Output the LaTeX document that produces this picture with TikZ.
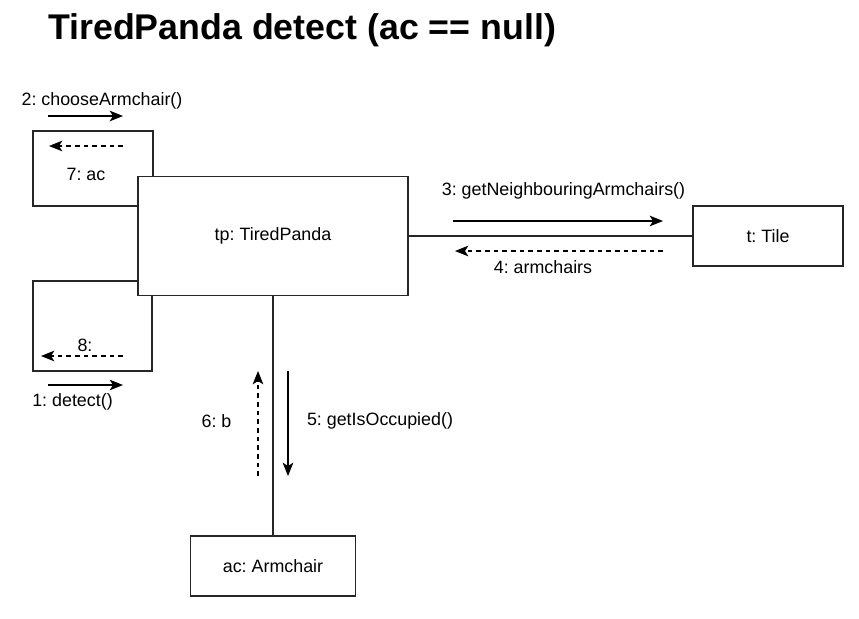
\documentclass[tikz,border=0pt]{standalone}
\usepackage{fontspec}
\setmainfont{Liberation Sans}
\usetikzlibrary{arrows.meta}
\frenchspacing
\begin{document}
\begin{tikzpicture}[x=0.75pt,y=-0.75pt,
  box/.style={draw=black!85,line width=0.9pt,fill=white,inner sep=0pt,font=\frenchspacing\fontsize{13.4}{16}\selectfont},
  lbl/.style={inner sep=0pt,font=\frenchspacing\fontsize{13.4}{16}\selectfont},
  link/.style={line width=1pt,black!85},
  msg/.style={line width=0.9pt,-{Stealth[length=10pt,width=8pt,inset=2.5pt]}},
  ret/.style={msg,dash pattern=on 3.5pt off 3pt}]
\useasboundingbox (0,0) rectangle (859,618);
\node[anchor=base west,inner sep=0pt,font=\fontsize{26.8}{30}\selectfont\bfseries] (title) at (48,39) {TiredPanda detect (ac == null)};
% self-loop boxes
\node[box,minimum width=90pt,minimum height=56.25pt] (loopA) at (93,168.5) {};
\node[box,minimum width=89.25pt,minimum height=67.5pt] (loopB) at (92.5,326) {};
% objects
\node[box,minimum width=202.5pt,minimum height=89.25pt] (tp) at (273,236) {tp: TiredPanda};
\node[box,minimum width=112.5pt,minimum height=45pt] (tile) at (768,236) {t: Tile};
\node[box,minimum width=123.75pt,minimum height=45pt] (ac) at (273,566) {ac: Armchair};
% links
\draw[link] (tp.east) -- (tile.west);
\draw[link] (tp.south) -- (ac.north);
% message end points
\coordinate (m2s) at (48,116); \coordinate (m2e) at (123,116);
\coordinate (m7s) at (123,146); \coordinate (m7e) at (49,146);
\coordinate (m8s) at (123,356); \coordinate (m8e) at (41,356);
\coordinate (m1s) at (48,385); \coordinate (m1e) at (123,385);
\coordinate (m3s) at (453,221); \coordinate (m3e) at (663,221);
\coordinate (m4s) at (663,251); \coordinate (m4e) at (455,251);
\coordinate (m5s) at (288,371); \coordinate (m5e) at (288,476);
\coordinate (m6s) at (258,476); \coordinate (m6e) at (258,371);
\draw[msg] (m2s) -- (m2e);
\draw[ret] (m7s) -- (m7e);
\draw[ret] (m8s) -- (m8e);
\draw[msg] (m1s) -- (m1e);
\draw[msg] (m3s) -- (m3e);
\draw[ret] (m4s) -- (m4e);
\draw[msg] (m5s) -- (m5e);
\draw[ret] (m6s) -- (m6e);
% labels
\node[lbl] (l2) at (102,101) {2: chooseArmchair()};
\node[lbl] (l7) at (86,174) {7: ac};
\node[lbl] (l8) at (85,345) {8:};
\node[lbl] (l1) at (72.5,402) {1: detect()};
\node[lbl] (l3) at (563.5,191) {3: getNeighbouringArmchairs()};
\node[lbl] (l4) at (543,267) {4: armchairs};
\node[lbl] (l6) at (216.5,421) {6: b};
\node[lbl] (l5) at (380,421) {5: getIsOccupied()};
\end{tikzpicture}
\end{document}
